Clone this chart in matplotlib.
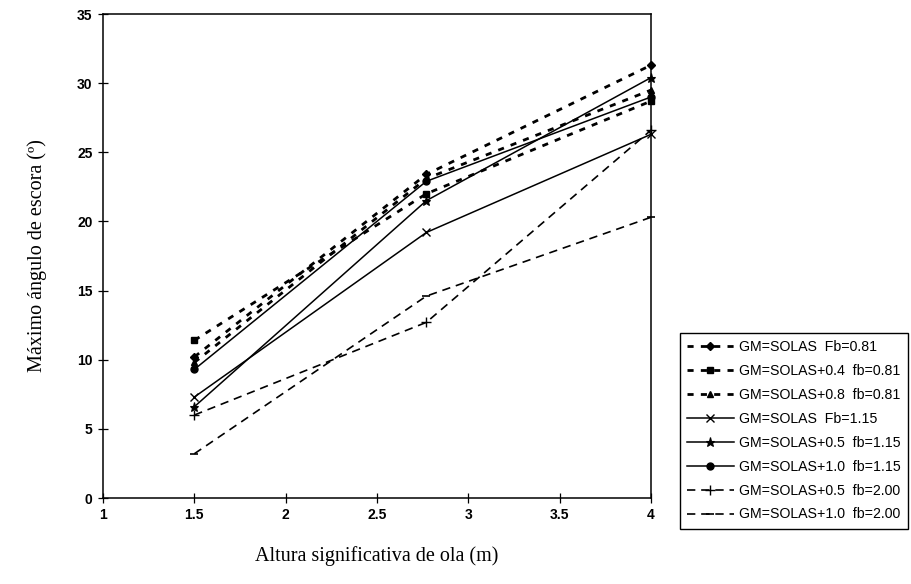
import matplotlib
matplotlib.use("Agg")
import matplotlib.pyplot as plt

# Altura significativa de ola (m)
wave_height = [1.5, 2.77, 4.0]

# Máximo ángulo de escora (deg) per condition
solas_fb081 = [10.2, 23.4, 31.3]
solas04_fb081 = [11.4, 22.0, 28.7]
solas08_fb081 = [9.8, 23.1, 29.5]
solas_fb115 = [7.3, 19.2, 26.3]
solas05_fb115 = [6.6, 21.5, 30.4]
solas10_fb115 = [9.3, 22.9, 29.0]
solas05_fb200 = [6.0, 12.7, 26.6]
solas10_fb200 = [3.2, 14.6, 20.3]

labels = [
    "GM=SOLAS  Fb=0.81",
    "GM=SOLAS+0.4  fb=0.81",
    "GM=SOLAS+0.8  fb=0.81",
    "GM=SOLAS  Fb=1.15",
    "GM=SOLAS+0.5  fb=1.15",
    "GM=SOLAS+1.0  fb=1.15",
    "GM=SOLAS+0.5  fb=2.00",
    "GM=SOLAS+1.0  fb=2.00",
]

xticks = [1, 1.5, 2, 2.5, 3, 3.5, 4]
xticklabels = ["1", "1.5", "2", "2.5", "3", "3.5", "4"]
yticks = [0, 5, 10, 15, 20, 25, 30, 35]

plt.rcParams["font.family"] = ["Liberation Sans", "DejaVu Sans"]

fig = plt.figure(figsize=(9.12, 5.84), dpi=100)
ax = fig.add_axes([103 / 912, 1 - 498 / 584, 548 / 912, 484 / 584])

short_dash = (0, (2.2, 2.6))
long_dash = (0, (5, 3.5))

series = [
    (solas_fb081, dict(ls=short_dash, lw=2.0, marker="D", ms=4)),
    (solas04_fb081, dict(ls=short_dash, lw=2.0, marker="s", ms=5)),
    (solas08_fb081, dict(ls=short_dash, lw=2.0, marker="^", ms=5)),
    (solas_fb115, dict(ls="-", lw=1.1, marker="x", ms=6, mew=1.0)),
    (solas05_fb115, dict(ls="-", lw=1.1, marker="*", ms=6.5, mew=0.8)),
    (solas10_fb115, dict(ls="-", lw=1.1, marker="o", ms=5)),
    (solas05_fb200, dict(ls=long_dash, lw=1.2, marker="+", ms=7, mew=1.0)),
    (solas10_fb200, dict(ls=long_dash, lw=1.2, marker="_", ms=6, mew=1.2)),
]

handles = []
for (vals, style), lab in zip(series, labels):
    h, = ax.plot(wave_height, vals, color="black", label=lab, clip_on=False, **style)
    handles.append(h)

ax.set_xlim(1, 4)
ax.set_ylim(0, 35)
ax.set_xticks(xticks)
ax.set_xticklabels(xticklabels)
ax.set_yticks(yticks)
for spine in ax.spines.values():
    spine.set_linewidth(1.1)
ax.tick_params(direction="inout", length=7, width=0.9, labelsize=10, pad=4)
for t in ax.get_xticklabels() + ax.get_yticklabels():
    t.set_fontweight("bold")

ax.set_xlabel("Altura significativa de ola (m)", family=["Liberation Serif", "DejaVu Serif"],
              fontsize=14.5, labelpad=17)
ax.set_ylabel("Máximo ángulo de escora (º)", family=["Liberation Serif", "DejaVu Serif"],
              fontsize=14.5, labelpad=22)

leg = fig.legend(handles=handles, loc="upper left",
                 bbox_to_anchor=(680 / 912, 1 - 333 / 584),
                 frameon=True, fancybox=False, framealpha=1, edgecolor="black",
                 fontsize=10.2, handlelength=3.3, handletextpad=0.4,
                 labelspacing=0.7, borderpad=0.5, borderaxespad=0)
leg.get_frame().set_linewidth(1.0)

fig.savefig("out.png", dpi=100)
